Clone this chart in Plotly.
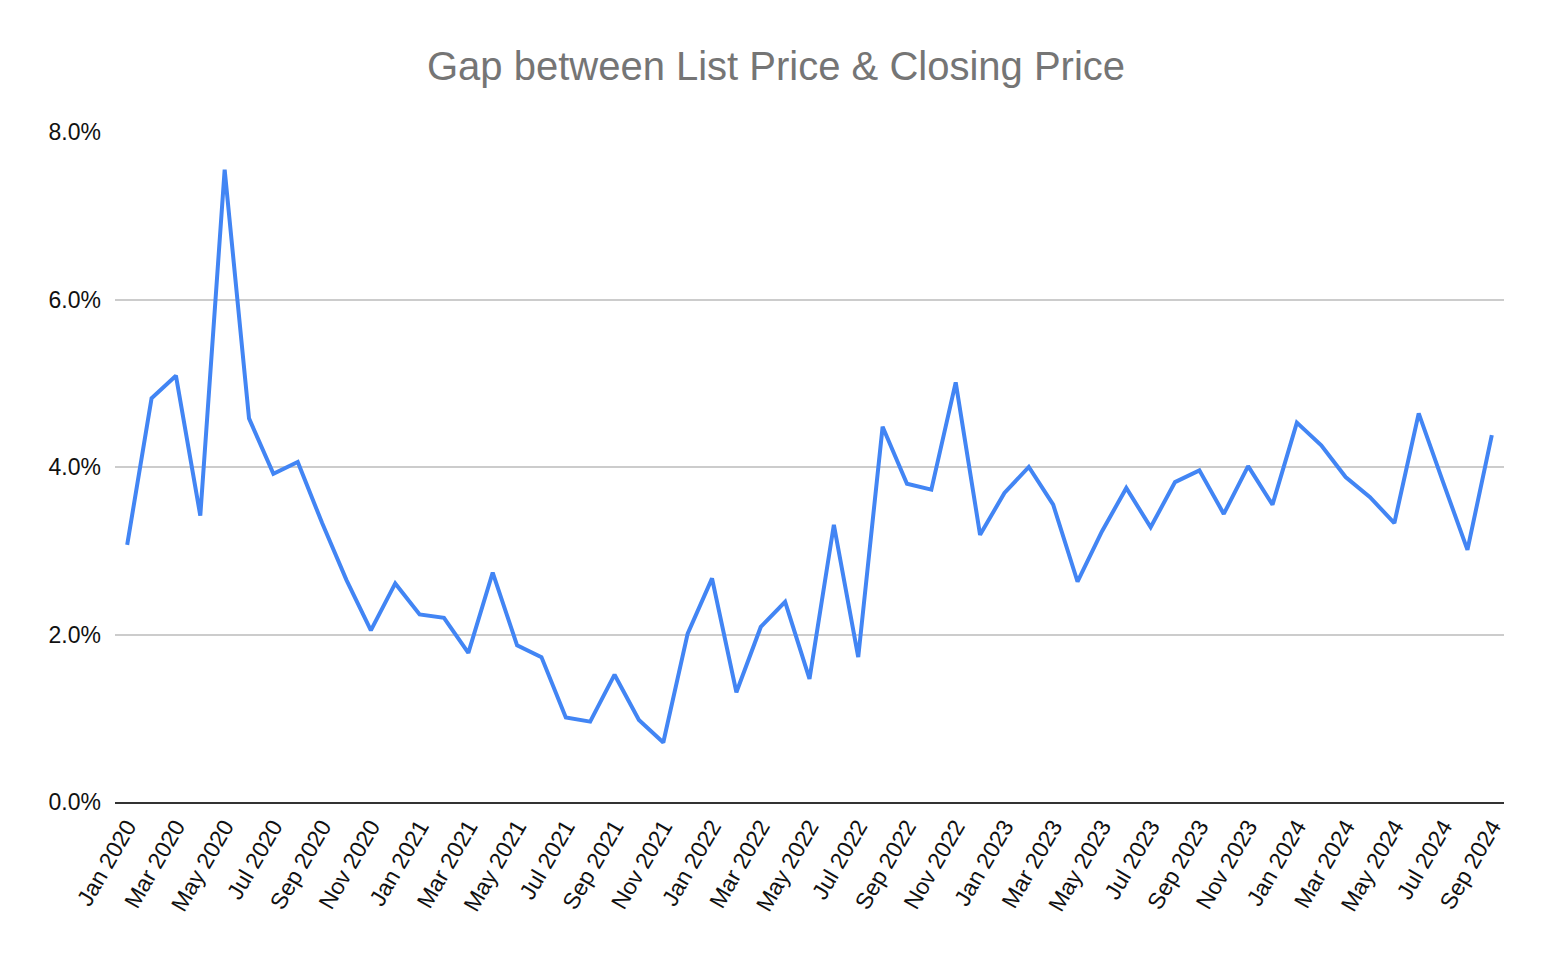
import plotly.graph_objects as go

# monthly labels, Jan 2020 .. Sep 2024
months = ["Jan", "Feb", "Mar", "Apr", "May", "Jun", "Jul", "Aug", "Sep", "Oct", "Nov", "Dec"]
years = [2020, 2021, 2022, 2023, 2024]
labels = [m + " " + str(y) for y in years for m in months][:57]

# gap between list price and closing price, in percent
gap_2020 = [3.07, 4.82, 5.09, 3.42, 7.55, 4.58, 3.92, 4.06, 3.33, 2.65, 2.05, 2.61]
gap_2021 = [2.24, 2.20, 1.78, 2.74, 1.87, 1.73, 1.01, 0.96, 1.52, 0.98, 0.71, 2.01]
gap_2022 = [2.67, 1.31, 2.09, 2.39, 1.47, 3.31, 1.73, 4.48, 3.80, 3.73, 5.01, 3.19]
gap_2023 = [3.69, 4.00, 3.55, 2.63, 3.23, 3.75, 3.28, 3.82, 3.96, 3.44, 4.01, 3.55]
gap_2024 = [4.53, 4.26, 3.88, 3.64, 3.33, 4.64, 3.82, 3.01, 4.38]
gap = [v / 100 for v in gap_2020 + gap_2021 + gap_2022 + gap_2023 + gap_2024]

fig = go.Figure()
fig.add_trace(go.Scatter(x=labels, y=gap, mode="lines",
                         line=dict(color="#4285F4", width=4)))

# page body has an 8px margin, so the figure is a bit smaller than the window
fig.update_layout(
    width=1544, height=952,
    paper_bgcolor="white", plot_bgcolor="white",
    font=dict(family="Arial, Liberation Sans, sans-serif", size=23, color="#111111"),
    title=dict(text="Gap between List Price & Closing Price", x=0.4974, xanchor="center",
               y=0.9396, yanchor="middle",
               font=dict(size=40, color="#757575")),
    margin=dict(l=107, r=48, t=124, b=158),
    showlegend=False,
)
fig.update_xaxes(type="category", range=[-0.5, len(labels) - 0.5],
                 tickvals=labels[::2], tickangle=-60,
                 showgrid=False, showline=True, linecolor="#333333", linewidth=2,
                 ticks="", tickfont=dict(size=23, color="#111111"))
fig.update_yaxes(range=[0, 0.08], dtick=0.02, tickformat=".1%",
                 showgrid=True, gridcolor="#cccccc", gridwidth=1.5,
                 zeroline=False, showline=False, ticks="",
                 ticklabelstandoff=13, tickfont=dict(size=23, color="#111111"))

fig.write_html("out.html")
